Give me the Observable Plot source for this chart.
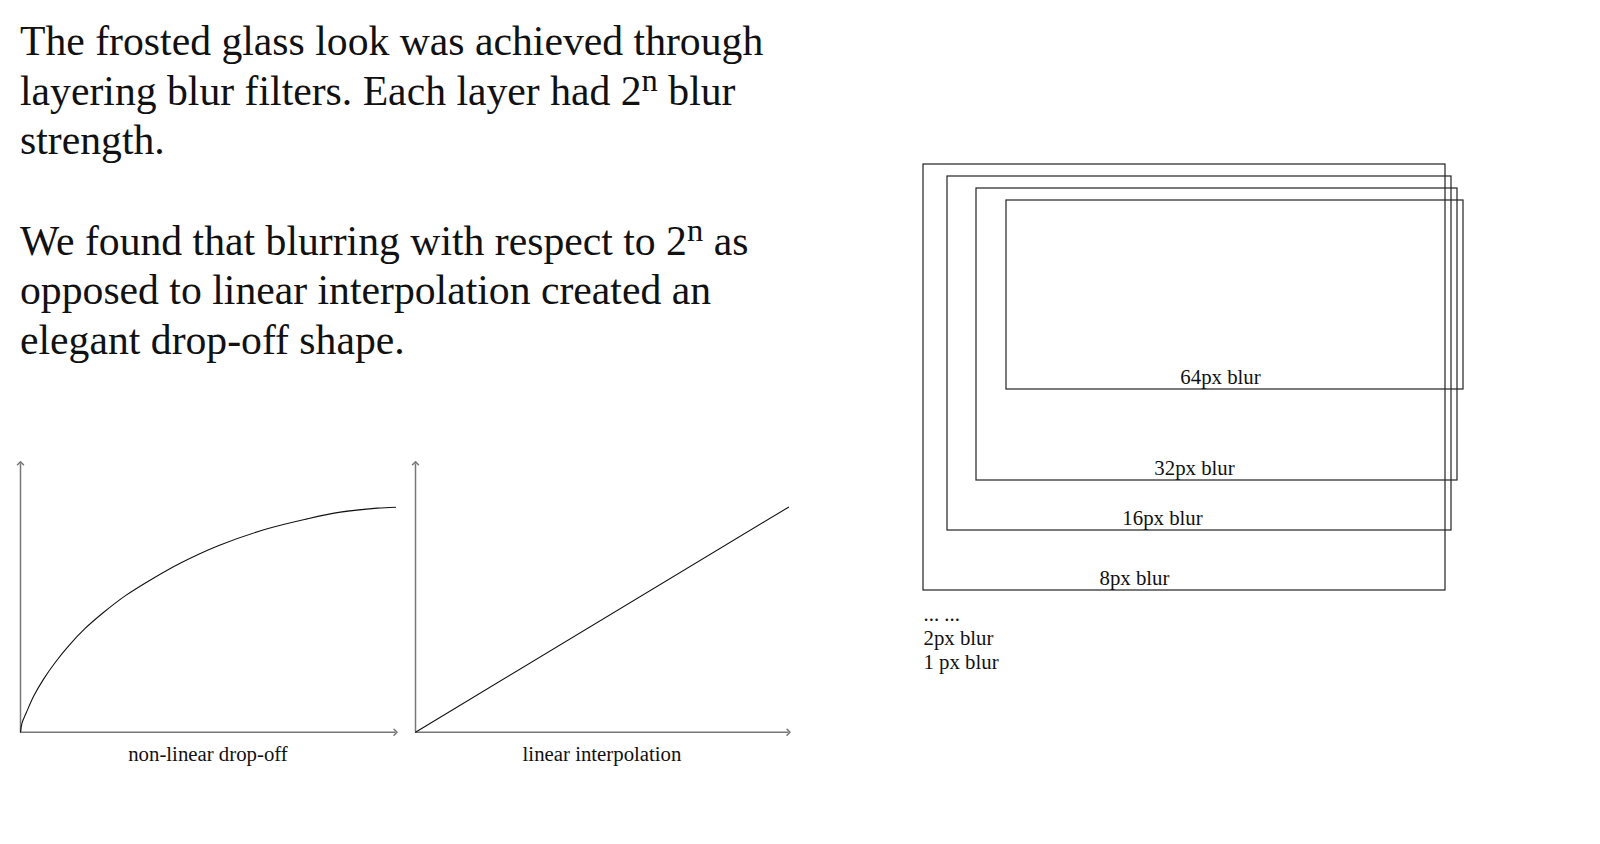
<!DOCTYPE html>
<html><head><meta charset="utf-8">
<script src="https://cdn.jsdelivr.net/npm/d3@7"></script>
<script src="https://cdn.jsdelivr.net/npm/@observablehq/plot@0.6"></script>
<style>
html,body{margin:0;padding:0;background:#fff;}
body{width:1600px;height:844px;position:relative;overflow:hidden;font-family:"Liberation Serif",serif;color:#111;}
#text{position:absolute;left:20px;top:17px;font-size:41.7px;line-height:49.6px;white-space:nowrap;}
#text p{margin:0 0 51px 0;}
#text sup{font-size:0.78em;line-height:0;vertical-align:0.42em;}
.pos{position:absolute;}
</style></head><body>
<div id="text"><p>The frosted glass look was achieved through<br>layering blur filters. Each layer had 2<sup>n</sup> blur<br>strength.</p><p>We found that blurring with respect to 2<sup>n</sup> as<br>opposed to linear interpolation created an<br>elegant drop-off shape.</p></div>
<div id="c1" class="pos" style="left:0;top:440px"></div>
<div id="c2" class="pos" style="left:395px;top:440px"></div>
<div id="d" class="pos" style="left:900px;top:140px"></div>
<script>
// non-linear drop-off curve (0–100 units)
const curveX = [0, 0.4, 1.6, 3.6, 6.2, 9.3, 12.9, 17.1, 22.2, 28.0, 35.1, 42.7, 52.9, 65.8, 76.4, 85.3, 95.1, 100];
const curveY = [0, 4, 8.9, 16.3, 23.7, 31.1, 38.5, 45.9, 53.3, 60.7, 68.1, 75.2, 83.0, 90.4, 94.8, 97.8, 99.6, 100];
// linear interpolation
const linearX = [0, 100];
const linearY = [0, 100];
const axisEndX = 100;
const axisEndY = 119.5;
const chartLabels = ["non-linear drop-off", "linear interpolation"];
// nested blur layers (diagram units)
const layerBlur = [8, 16, 32, 64];
const layerLeft = [0, 24, 53, 83];
const layerRight = [522, 528, 534, 540];
const layerTop = [0, 12, 24, 36];
const layerBottom = [426, 366, 316, 225];
const labelX = [211, 239, 271, 297];
const footnotes = ["... ...", "2px blur", "1 px blur"];
const footY = [456, 480, 504];

const baseStyle = {fontFamily: "Liberation Serif", fontSize: "20.8px", background: "transparent", color: "#111", overflow: "visible"};

function chart(xs, ys, label, xrange) {
  const pts = xs.map((x, i) => ({x, y: ys[i]}));
  const axes = [
    {x1: 0, y1: 0, x2: 0, y2: axisEndY},
    {x1: 0, y1: 0, x2: axisEndX, y2: 0}
  ];
  return Plot.plot({
    width: 400, height: 330, margin: 0,
    x: {domain: [0, 100], range: xrange, axis: null},
    y: {domain: [0, 100], range: [291.7, 66.7], axis: null},
    style: baseStyle,
    marks: [
      Plot.link(axes, {x1: "x1", y1: "y1", x2: "x2", y2: "y2", stroke: "#777", strokeWidth: 1.5, markerEnd: "arrow"}),
      Plot.line(pts, {x: "x", y: "y", curve: "catmull-rom", stroke: "#111", strokeWidth: 1.1}),
      Plot.text([{x: 50, y: 0, t: label}], {x: "x", y: "y", text: "t", dy: 29, lineAnchor: "bottom", fill: "#111"})
    ]
  });
}

document.getElementById("c1").appendChild(chart(curveX, curveY, chartLabels[0], [20, 395]));
document.getElementById("c2").appendChild(chart(linearX, linearY, chartLabels[1], [20, 393]));

const layers = layerBlur.map((b, i) => ({blur: b, x1: layerLeft[i], x2: layerRight[i], y1: layerTop[i], y2: layerBottom[i], lx: labelX[i]}));
const notes = footnotes.map((t, i) => ({t, y: footY[i]}));
document.getElementById("d").appendChild(Plot.plot({
  width: 650, height: 560, margin: 0,
  x: {domain: [0, 600], range: [23, 623], axis: null},
  y: {domain: [0, 540], range: [24, 564], axis: null},
  style: baseStyle,
  marks: [
    Plot.rect(layers, {x1: "x1", x2: "x2", y1: "y1", y2: "y2", fill: "none", stroke: "#222", strokeWidth: 1.2}),
    Plot.text(layers, {x: "lx", y: "y2", text: d => `${d.blur}px blur`, dy: -6, lineAnchor: "bottom", fill: "#111"}),
    Plot.text(notes, {x: 0, y: "y", text: "t", textAnchor: "start", lineAnchor: "bottom", fill: "#111"})
  ]
}));
</script>
</body></html>
